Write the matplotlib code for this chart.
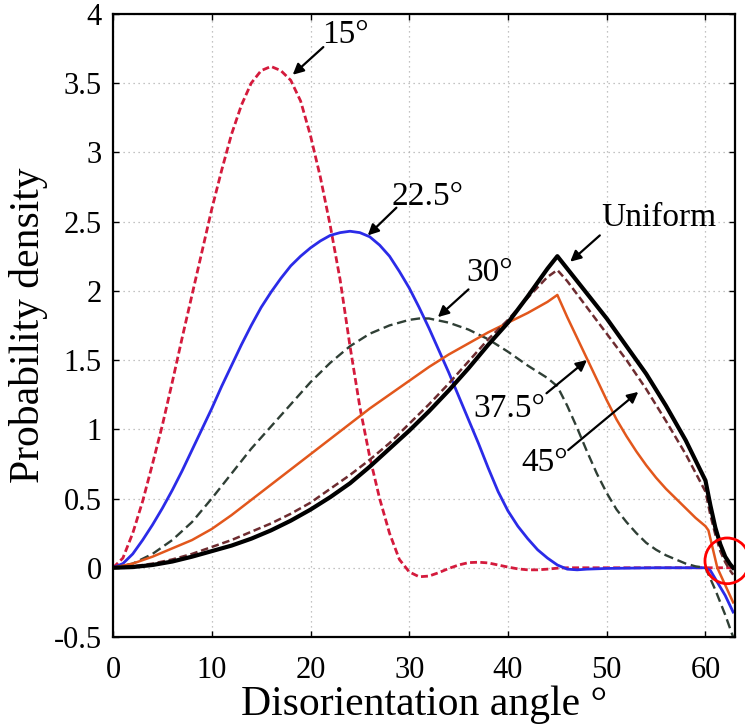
import matplotlib
matplotlib.use('Agg')
import matplotlib.pyplot as plt
from matplotlib.patches import Ellipse

plt.rcParams['font.family'] = ['Liberation Serif', 'DejaVu Serif']

# 15 deg spread (red dashed)
ang_15 = [0, 1, 2, 3, 4, 5, 6, 7, 8, 9, 10, 11, 12, 13, 14, 15, 16, 17, 18, 19, 20,
          21, 22, 23, 24, 25, 26, 27, 28, 29, 30, 31, 32, 33, 34, 35, 36, 37, 38, 39,
          40, 41, 42, 43, 44, 45, 46, 50, 55, 60, 62.8]
den_15 = [0, 0.07, 0.25, 0.48, 0.75, 1.03, 1.34, 1.66, 1.97, 2.28, 2.59, 2.87, 3.13,
          3.34, 3.5, 3.59, 3.62, 3.59, 3.52, 3.37, 3.12, 2.82, 2.47, 2.08, 1.6, 1.16,
          0.8, 0.5, 0.25, 0.06, -0.03, -0.065, -0.06, -0.035, -0.005, 0.02, 0.037,
          0.04, 0.035, 0.02, 0.005, -0.008, -0.015, -0.015, -0.01, -0.003, 0, 0, 0, 0, 0]

# 22.5 deg spread (blue)
ang_22 = [0, 1, 2, 3, 4, 5, 6, 7, 8, 9, 10, 11, 12, 13, 14, 15, 16, 17, 18, 19, 20,
          21, 22, 23, 24, 25, 26, 27, 28, 29, 30, 31, 32, 33, 34, 35, 36, 37, 38, 39,
          40, 41, 42, 43, 44, 45, 46, 47, 48, 50, 55, 60, 60.5, 61, 62, 62.8]
den_22 = [0, 0.03, 0.1, 0.2, 0.31, 0.43, 0.56, 0.7, 0.85, 1.0, 1.15, 1.31, 1.46,
          1.61, 1.75, 1.88, 1.99, 2.09, 2.18, 2.25, 2.31, 2.36, 2.4, 2.42, 2.43, 2.42,
          2.39, 2.33, 2.25, 2.14, 2.02, 1.88, 1.73, 1.57, 1.41, 1.24, 1.07, 0.9, 0.72,
          0.55, 0.41, 0.3, 0.21, 0.13, 0.07, 0.02, -0.01, -0.015, -0.01, -0.005, 0, 0,
          -0.02, -0.08, -0.2, -0.32]

# 30 deg spread (dark dashed)
ang_30 = [0, 2, 4, 6, 8, 10, 12, 14, 16, 18, 20, 22, 24, 26, 28, 30, 31, 32, 34, 36,
          38, 40, 42, 44, 45, 46, 47, 48, 49, 50, 51, 52, 53, 54, 55, 56, 57, 58, 59,
          60, 61, 62, 62.8]
den_30 = [0, 0.03, 0.1, 0.2, 0.33, 0.5, 0.68, 0.86, 1.02, 1.18, 1.34, 1.48, 1.6, 1.69,
          1.75, 1.79, 1.8, 1.8, 1.77, 1.72, 1.65, 1.56, 1.46, 1.37, 1.31, 1.17, 1.01,
          0.84, 0.68, 0.54, 0.42, 0.33, 0.25, 0.18, 0.13, 0.09, 0.06, 0.03, 0.01, 0.0,
          -0.16, -0.34, -0.5]

# 37.5 deg spread (orange)
ang_37 = [0, 2, 4, 6, 8, 10, 12, 14, 16, 18, 20, 22, 24, 26, 28, 30, 32, 34, 36, 38,
          40, 42, 44, 45, 46, 47, 48, 49, 50, 51, 52, 53, 54, 55, 56, 57, 58, 59, 60,
          60.3, 61.2, 62.8]
den_37 = [0, 0.03, 0.08, 0.14, 0.2, 0.28, 0.38, 0.49, 0.6, 0.71, 0.82, 0.93, 1.04,
          1.15, 1.25, 1.35, 1.45, 1.54, 1.62, 1.7, 1.77, 1.84, 1.92, 1.97, 1.81, 1.66,
          1.51, 1.36, 1.21, 1.07, 0.95, 0.84, 0.74, 0.65, 0.57, 0.5, 0.43, 0.36, 0.3,
          0.27, 0.0, -0.25]

# 45 deg spread (brown dashed)
ang_45 = [0, 2, 4, 6, 8, 10, 12, 14, 16, 18, 20, 22, 24, 26, 28, 30, 32, 34, 36, 38,
          40, 42, 44, 45, 46, 48, 50, 52, 54, 56, 58, 60, 60.5, 61, 61.5, 62, 62.5, 62.8]
den_45 = [0, 0.01, 0.03, 0.06, 0.1, 0.15, 0.2, 0.26, 0.32, 0.39, 0.47, 0.57, 0.67,
          0.78, 0.9, 1.04, 1.18, 1.33, 1.49, 1.65, 1.79, 1.95, 2.1, 2.15, 2.07, 1.88,
          1.69, 1.5, 1.29, 1.06, 0.82, 0.55, 0.38, 0.24, 0.12, 0.04, -0.02, -0.05]

# uniform (Mackenzie), thick black
ang_uni = [0, 2, 4, 6, 8, 10, 12, 14, 16, 18, 20, 22, 24, 26, 28, 30, 32, 34, 36, 38,
           40, 42, 44, 45, 46, 48, 50, 52, 54, 56, 58, 60, 60.5, 61, 61.5, 62, 62.5, 62.8]
den_uni = [0, 0.005, 0.02, 0.045, 0.08, 0.12, 0.16, 0.21, 0.27, 0.34, 0.42, 0.51, 0.61,
           0.73, 0.86, 0.99, 1.13, 1.28, 1.44, 1.61, 1.77, 1.96, 2.16, 2.25, 2.16, 1.98,
           1.8, 1.6, 1.4, 1.17, 0.92, 0.63, 0.45, 0.29, 0.17, 0.08, 0.025, 0.0]

x_ticks = [0, 10, 20, 30, 40, 50, 60]
y_ticks = [-0.5, 0, 0.5, 1, 1.5, 2, 2.5, 3, 3.5, 4]
y_tick_labels = ['-0.5', '0', '0.5', '1', '1.5', '2', '2.5', '3', '3.5', '4']

fig = plt.figure(figsize=(7.45, 7.28), dpi=100)
ax = fig.add_axes([0.1517, 0.125, 0.835, 0.856])

ax.plot(ang_15, den_15, color='#D41A3C', lw=2.0, dashes=(2.5, 1.2))
ax.plot(ang_22, den_22, color='#2B2BE8', lw=2.0)
ax.plot(ang_30, den_30, color='#2F3F35', lw=1.7, dashes=(4, 2))
ax.plot(ang_37, den_37, color='#E2571C', lw=1.8)
ax.plot(ang_45, den_45, color='#6E2C30', lw=1.8, dashes=(3, 1.5))
ax.plot(ang_uni, den_uni, color='black', lw=3.0)

ax.set_xlim(0, 63)
ax.set_ylim(-0.5, 4)
ax.set_xticks(x_ticks)
ax.set_yticks(y_ticks)
ax.set_yticklabels(y_tick_labels)
ax.tick_params(direction='in', length=4, width=1, top=True, right=True,
               labelsize=22)
ax.tick_params(axis='x', pad=14)
ax.tick_params(axis='y', pad=8)
ax.grid(True, color='#b0b0b0', lw=0.9, linestyle=(0, (1, 3)))
for s in ax.spines.values():
    s.set_linewidth(1.6)

ax.set_xlabel('Disorientation angle °', fontsize=30, labelpad=0)
ax.set_ylabel('Probability density', fontsize=30, labelpad=4)

# labels with arrows: (text, text pos, arrow tail, arrow tip)
labels = [
    ('15°', (23.5, 3.85), (21.3, 3.76), (18.2, 3.56)),
    ('22.5°', (31.8, 2.68), (28.7, 2.60), (25.8, 2.40)),
    ('30°', (38.1, 2.13), (36.0, 2.01), (32.9, 1.81)),
    ('Uniform', (55.3, 2.53), (49.3, 2.40), (46.3, 2.21)),
    ('37.5°', (40.1, 1.15), (43.9, 1.26), (48.0, 1.50)),
    ('45°', (43.7, 0.76), (46.1, 0.85), (53.2, 1.27)),
]
arrow = dict(arrowstyle='-|>', color='black', lw=1.6, mutation_scale=16,
             shrinkA=0, shrinkB=0)
for txt, pos, tail, tip in labels:
    ax.text(pos[0], pos[1], txt, fontsize=24, ha='center', va='center')
    ax.annotate('', xy=tip, xytext=tail, arrowprops=arrow)

# red circle marking the end of the range
ax.add_patch(Ellipse((62.2, 0.05), 4.5, 0.33, fill=False, edgecolor='red',
                     lw=2, clip_on=False, zorder=5))

fig.savefig('out.png', dpi=100)
